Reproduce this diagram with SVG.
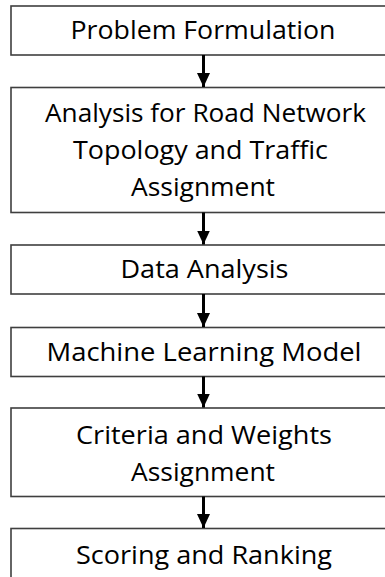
<svg xmlns="http://www.w3.org/2000/svg" width="385" height="577" viewBox="0 0 385 577">
<style>
.box{fill:#ffffff;stroke:#3f3f3f;stroke-width:1.6}
.lbl{font-family:"Open Sans","Noto Sans","Liberation Sans",sans-serif;font-size:25px;fill:#000000;text-anchor:middle}
.conn{stroke:#000000;stroke-width:3;fill:none}
</style>
<defs>
<marker id="ah" markerUnits="userSpaceOnUse" markerWidth="15" markerHeight="13" viewBox="0 0 15 13" refX="14" refY="6.5" orient="auto">
<path d="M0,0 L14,6.5 L0,13 Z" fill="#000000"/>
</marker>
</defs>
<rect width="385" height="577" fill="#ffffff"/>
<g id="n1"><rect class="box" x="11" y="6" width="385" height="49"/><text class="lbl" x="203" y="39" textLength="265" lengthAdjust="spacingAndGlyphs">Problem Formulation</text></g>
<g id="n2"><rect class="box" x="11" y="87.5" width="385" height="125"/><text class="lbl" x="205.5" y="121.5" textLength="321" lengthAdjust="spacingAndGlyphs">Analysis for Road Network</text><text class="lbl" x="200.5" y="158.5" textLength="255" lengthAdjust="spacingAndGlyphs">Topology and Traffic</text><text class="lbl" x="203" y="195.5" textLength="144" lengthAdjust="spacingAndGlyphs">Assignment</text></g>
<g id="n3"><rect class="box" x="11" y="245" width="385" height="49"/><text class="lbl" x="204.5" y="278" textLength="168" lengthAdjust="spacingAndGlyphs">Data Analysis</text></g>
<g id="n4"><rect class="box" x="11" y="327.5" width="385" height="49"/><text class="lbl" x="204" y="360.5" textLength="315" lengthAdjust="spacingAndGlyphs">Machine Learning Model</text></g>
<g id="n5"><rect class="box" x="11" y="408" width="385" height="88.5"/><text class="lbl" x="204" y="444" textLength="256" lengthAdjust="spacingAndGlyphs">Criteria and Weights</text><text class="lbl" x="203" y="481" textLength="144" lengthAdjust="spacingAndGlyphs">Assignment</text></g>
<g id="n6"><rect class="box" x="11" y="528.5" width="385" height="60"/><text class="lbl" x="204" y="563.5" textLength="256" lengthAdjust="spacingAndGlyphs">Scoring and Ranking</text></g>
<g id="connectors">
<line class="conn" x1="203.5" y1="55" x2="203.5" y2="87" marker-end="url(#ah)"/>
<line class="conn" x1="203.5" y1="212.5" x2="203.5" y2="244.5" marker-end="url(#ah)"/>
<line class="conn" x1="203.5" y1="294" x2="203.5" y2="327" marker-end="url(#ah)"/>
<line class="conn" x1="203.5" y1="376.5" x2="203.5" y2="407.5" marker-end="url(#ah)"/>
<line class="conn" x1="203.5" y1="496.5" x2="203.5" y2="528" marker-end="url(#ah)"/>
</g>
</svg>
